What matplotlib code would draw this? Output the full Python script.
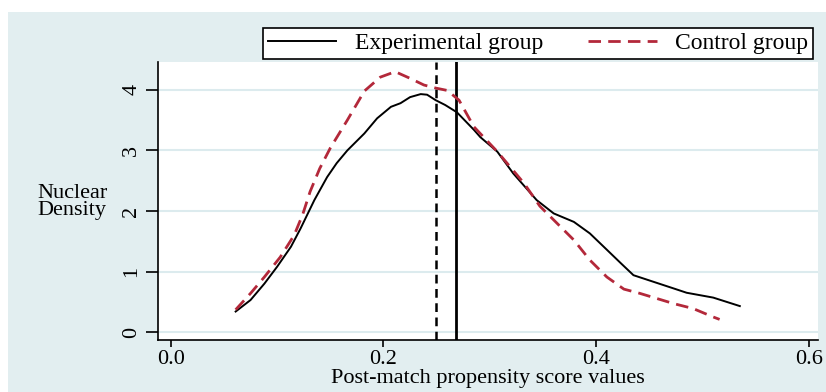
import matplotlib.pyplot as plt
from matplotlib.patches import Rectangle

# Kernel density curves
exp_x = [0.061, 0.075, 0.088, 0.100, 0.113, 0.122, 0.135, 0.147, 0.156, 0.166,
         0.182, 0.194, 0.207, 0.216, 0.225, 0.235, 0.241, 0.249, 0.258, 0.269,
         0.285, 0.291, 0.307, 0.322, 0.344, 0.360, 0.379, 0.394, 0.410, 0.423,
         0.435, 0.454, 0.473, 0.485, 0.510, 0.535]
exp_y = [0.34, 0.53, 0.80, 1.08, 1.41, 1.71, 2.18, 2.56, 2.79, 3.00,
         3.28, 3.53, 3.72, 3.78, 3.88, 3.93, 3.92, 3.83, 3.75, 3.63,
         3.34, 3.22, 2.98, 2.62, 2.18, 1.96, 1.82, 1.63, 1.36, 1.14,
         0.94, 0.83, 0.72, 0.65, 0.57, 0.43]

ctl_x = [0.061, 0.075, 0.088, 0.103, 0.116, 0.124, 0.131, 0.140, 0.150, 0.166,
         0.182, 0.197, 0.211, 0.225, 0.238, 0.249, 0.260, 0.271, 0.285, 0.307,
         0.332, 0.347, 0.363, 0.379, 0.394, 0.410, 0.426, 0.441, 0.473, 0.491,
         0.510, 0.516]
ctl_y = [0.37, 0.64, 0.91, 1.24, 1.60, 1.94, 2.32, 2.70, 3.04, 3.50,
         3.98, 4.21, 4.30, 4.19, 4.08, 4.03, 3.99, 3.83, 3.39, 2.98,
         2.46, 2.08, 1.80, 1.52, 1.19, 0.91, 0.71, 0.64, 0.47, 0.39,
         0.25, 0.21]

# mean lines
ctl_mean = 0.249
exp_mean = 0.268

xticks = [0.0, 0.2, 0.4, 0.6]
xticklabels = ["0.0", "0.2", "0.4", "0.6"]
yticks = [0, 1, 2, 3, 4]

plt.rcParams['font.family'] = ['Liberation Serif', 'DejaVu Serif']

bg = '#e2eef0'
red = '#b3283a'

fig = plt.figure(figsize=(8.26, 3.92), dpi=100)
fig.patch.set_facecolor('white')
fig.patches.append(Rectangle((8 / 826, 0), 1, 1 - 12 / 392, transform=fig.transFigure,
                             facecolor=bg, edgecolor='none', zorder=-10))

ax = fig.add_axes([158 / 826, 1 - 340 / 392, 660 / 826, 278 / 392])
ax.set_facecolor('white')

for y in yticks:
    ax.axhline(y, color='#dcebee', lw=1.5, zorder=0)

ax.plot(exp_x, exp_y, color='black', lw=1.4, label='Experimental group', zorder=3)
ax.plot(ctl_x, ctl_y, color=red, lw=2.0, dashes=(4.5, 2.6), label='Control group', zorder=3)
ax.axvline(ctl_mean, color='black', lw=1.8, dashes=(3.5, 2.2), zorder=2)
ax.axvline(exp_mean, color='black', lw=2.0, zorder=2)

ax.set_xlim(-0.012, 0.6085)
ax.set_ylim(-0.13, 4.46)
ax.set_xticks(xticks)
ax.set_xticklabels(xticklabels)
ax.set_yticks(yticks)
ax.tick_params(axis='x', direction='out', length=5, width=1.2, labelsize=16, pad=2)
ax.tick_params(axis='y', direction='out', length=9, width=1.2, labelsize=16,
               labelrotation=90, pad=3)
for lab in ax.get_yticklabels():
    lab.set_va('center')

for side in ['top', 'right']:
    ax.spines[side].set_visible(False)
for side in ['left', 'bottom']:
    ax.spines[side].set_linewidth(1.2)

ax.set_xlabel('Post-match propensity score values', fontsize=16, labelpad=0)
fig.text(37 / 826, 1 - 202 / 392, 'Nuclear\nDensity', fontsize=16, ha='left', va='center',
         linespacing=0.85)

leg = fig.legend(loc='center', bbox_to_anchor=(538 / 826, 1 - 43.5 / 392), ncol=2,
                 fontsize=17, frameon=True, fancybox=False, edgecolor='black',
                 handlelength=2.9, columnspacing=1.9, borderpad=0.2, handletextpad=0.8,
                 borderaxespad=0)
leg.get_frame().set_linewidth(1.2)
leg.get_frame().set_facecolor('white')
leg.get_frame().set_alpha(1)

fig.savefig('out.png', dpi=100, facecolor=fig.get_facecolor())
